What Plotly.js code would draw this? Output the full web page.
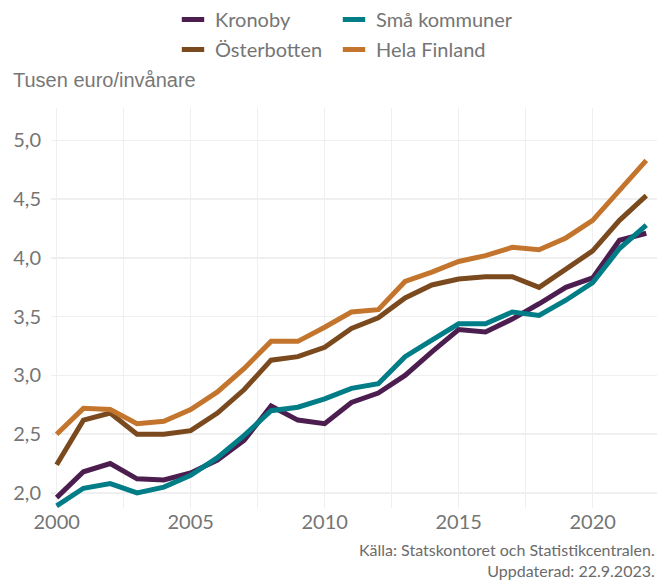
<!DOCTYPE html>
<html>
<head>
<meta charset="utf-8">
<script src="https://cdn.plot.ly/plotly-3.0.1.min.js"></script>
<style>html,body{margin:0;padding:0;background:#fff;}#chart{width:666px;height:581px;}</style>
</head>
<body>
<div id="chart"></div>
<script>
const years = [2000,2001,2002,2003,2004,2005,2006,2007,2008,2009,2010,2011,2012,2013,2014,2015,2016,2017,2018,2019,2020,2021,2022];
const kronoby = [1.96,2.18,2.25,2.12,2.11,2.17,2.28,2.45,2.74,2.62,2.59,2.77,2.85,3.00,3.20,3.39,3.37,3.48,3.61,3.75,3.83,4.15,4.21];
const smaKommuner = [1.89,2.04,2.08,2.00,2.05,2.15,2.30,2.49,2.70,2.73,2.80,2.89,2.93,3.16,3.30,3.44,3.44,3.54,3.51,3.64,3.79,4.08,4.28];
const osterbotten = [2.24,2.62,2.68,2.50,2.50,2.53,2.68,2.88,3.13,3.16,3.24,3.40,3.49,3.66,3.77,3.82,3.84,3.84,3.75,3.90,4.06,4.32,4.53];
const helaFinland = [2.50,2.72,2.71,2.59,2.61,2.71,2.86,3.06,3.29,3.29,3.41,3.54,3.56,3.80,3.88,3.97,4.02,4.09,4.07,4.17,4.32,4.57,4.83];

const seriesNames = ["Kronoby","Små kommuner","Österbotten","Hela Finland"];
const seriesValues = [kronoby, smaKommuner, osterbotten, helaFinland];
const colors = ["#4c1e50","#007d87","#7a4a1e","#c4752d"];
const legendIds = ["legend","legend2","legend3","legend4"];

const traces = [];
seriesValues.forEach((vals,i)=>{
  traces.push({x: years, y: vals, type:"scatter", mode:"lines", name: seriesNames[i],
    line:{color: colors[i], width:5}, showlegend:false, hoverinfo:"skip"});
});
seriesValues.forEach((vals,i)=>{
  traces.push({x:[null], y:[null], type:"scatter", mode:"markers", name: seriesNames[i],
    legend: legendIds[i], showlegend:true,
    marker:{symbol:"line-ew", size:18, color: colors[i], line:{color: colors[i], width:6}}});
});

const W = 666, H = 581;
const plotL = 51, plotR = 657, plotT = 108, plotB = 508;
const pw = plotR-plotL, ph = plotB-plotT;
const px2x = p => (p-plotL)/pw;
const px2y = p => (plotB-p)/ph;

const legendFont = {family:"Lato, 'Noto Sans', sans-serif", size:20, color:"#757575"};
function mkLegend(xpx, ytop){
  return {orientation:"h", xref:"container", yref:"container", x:xpx/W, y:ytop, xanchor:"left", yanchor:"top",
    font:legendFont, itemwidth:34, bgcolor:"rgba(0,0,0,0)", itemclick:false};
}
const layout = {
  width:W, height:H,
  paper_bgcolor:"#ffffff", plot_bgcolor:"#ffffff",
  separators:", ",
  margin:{l:plotL, r:W-plotR, t:plotT, b:H-plotB, autoexpand:false},
  font:{family:"Lato, 'Noto Sans', sans-serif", color:"#757575"},
  xaxis:{range:[1999.79, 2022.4], tickvals:[2000,2005,2010,2015,2020], showgrid:true,
    gridcolor:"#efefef", gridwidth:1.5, zeroline:false, showline:false, ticks:"",
    tickfont:{family:"Lato, 'Noto Sans', sans-serif", size:20, color:"#757575"},
    minor:{dtick:2.5, tick0:2000, showgrid:true, gridcolor:"#efefef", gridwidth:1.5}},
  yaxis:{range:[1.872, 5.276], dtick:0.5, tick0:2, tickformat:".1f", showgrid:true,
    gridcolor:"#efefef", gridwidth:1.5, zeroline:false, showline:false, ticks:"",
    ticklabelstandoff:9,
    tickfont:{family:"Lato, 'Noto Sans', sans-serif", size:20, color:"#757575"}},
  legend: mkLegend(171, 1.0),
  legend2: mkLegend(332, 1.0),
  legend3: mkLegend(171, 1-30/H),
  legend4: mkLegend(332, 1-30/H),
  annotations:[
    {text:"Tusen euro/invånare", xref:"paper", yref:"paper", x:px2x(11), xanchor:"left",
     y:px2y(80), yanchor:"middle", showarrow:false,
     font:{family:"'Liberation Sans', Arial, sans-serif", size:20, color:"#777777"}},
    {text:"Källa: Statskontoret och Statistikcentralen.<br>Uppdaterad: 22.9.2023.", xref:"paper", yref:"paper",
     x:px2x(657), xanchor:"right", y:px2y(560), yanchor:"middle", align:"right", showarrow:false,
     font:{family:"Lato, 'Noto Sans', sans-serif", size:16, color:"#6b6b6b"}}
  ]
};
Plotly.newPlot("chart", traces, layout, {displayModeBar:false, staticPlot:true});
</script>
</body>
</html>
